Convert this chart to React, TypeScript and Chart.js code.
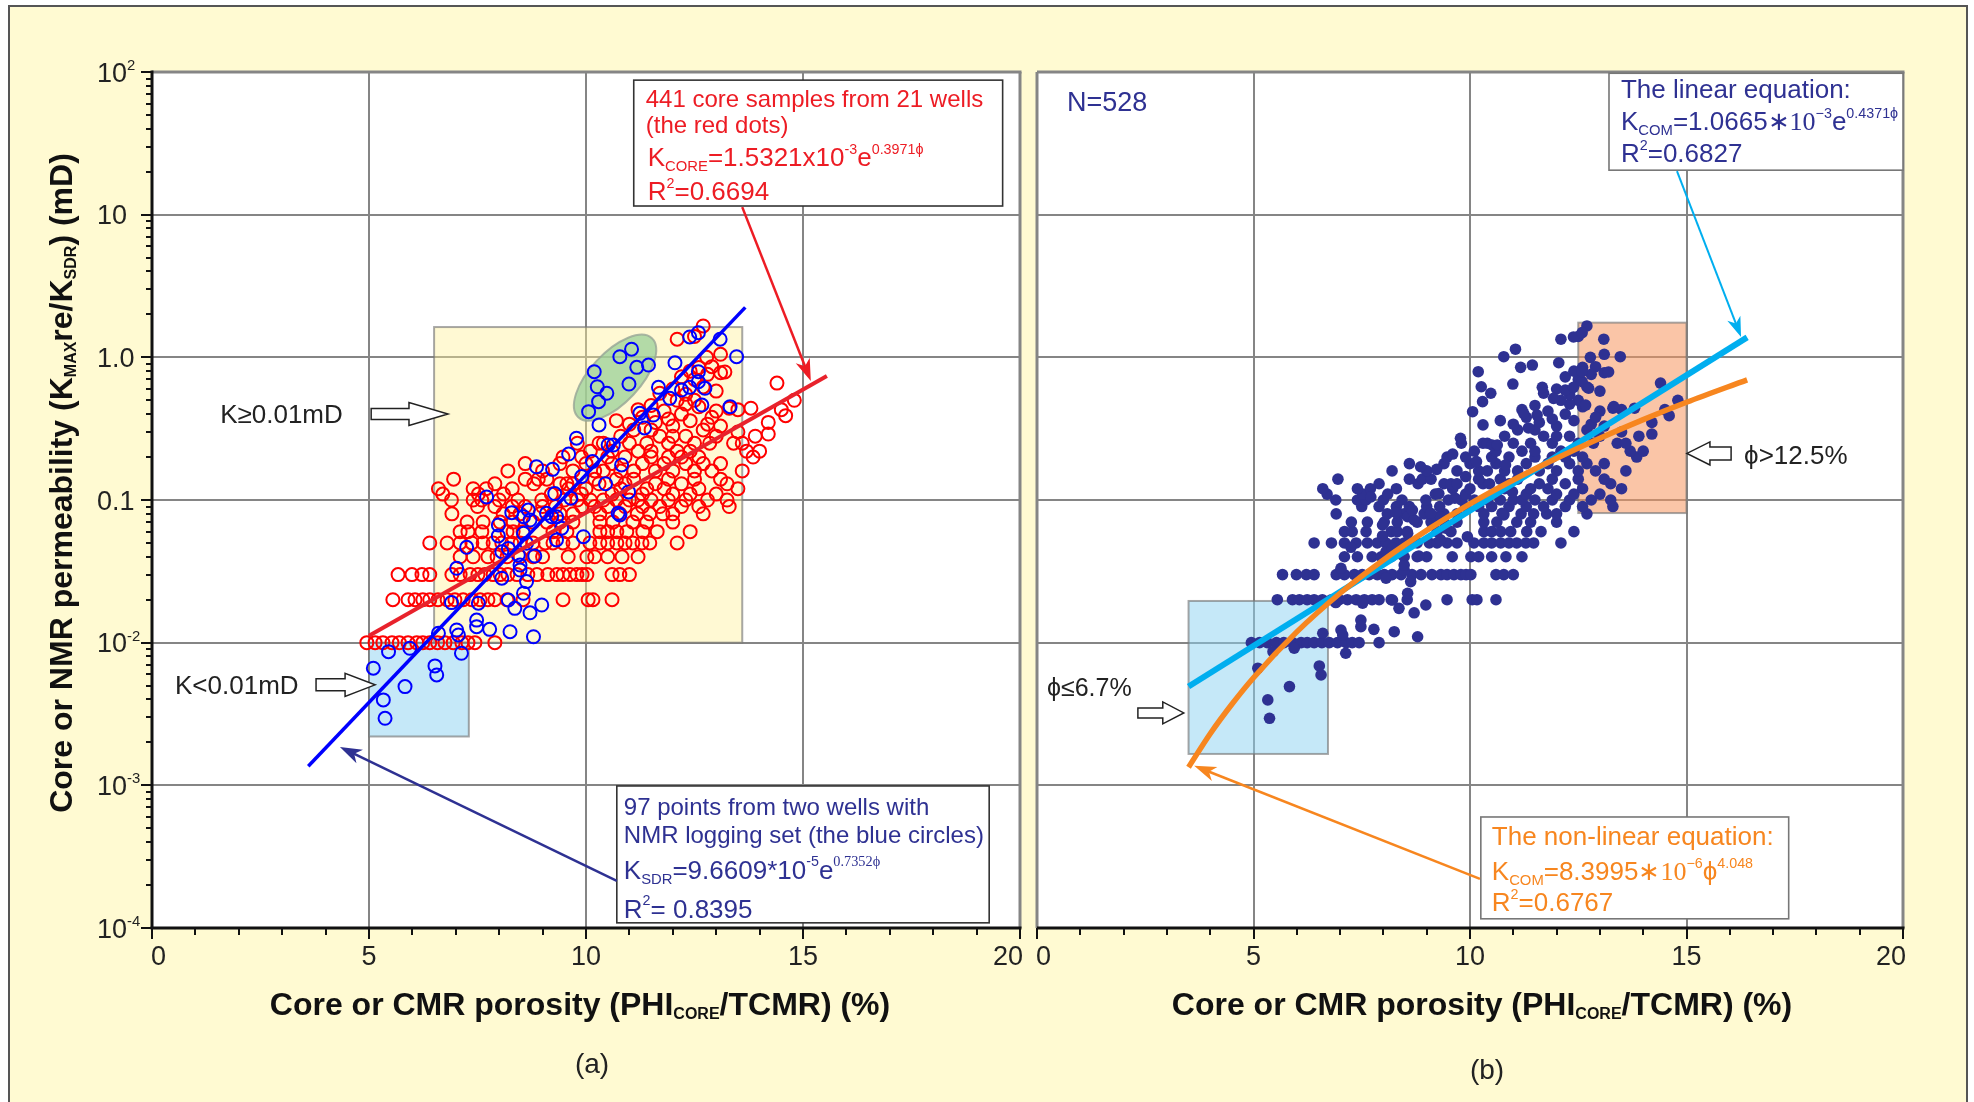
import { useEffect, useRef } from "react";
import { Chart, registerables } from "chart.js";
Chart.register(...registerables);

const SANS = '"Liberation Sans", Arial, Helvetica, sans-serif';
const SERIF = '"Liberation Serif", "Times New Roman", serif';

// ---------- axes ----------
const xGridValues = [0, 5, 10, 15, 20];
const xTickMarkValues = [0, 1, 2, 3, 4, 5, 6, 7, 8, 9, 10, 11, 12, 13, 14, 15, 16, 17, 18, 19, 20];
const xTickLabels = ["0", "5", "10", "15", "20"];
const yDecadeValues = [0.0001, 0.001, 0.01, 0.1, 1, 10, 100];
const yTickLabelBase = ["10", "10", "10", "0.1", "1.0", "10", "10"];
const yTickLabelExp = ["-4", "-3", "-2", "", "", "", "2"];
const yMinorSteps = [2, 3, 4, 5, 6, 7, 8, 9];

// ---------- data: core samples (red open circles), rows of equal K then scattered ----------
const coreRows: [number, number[]][] = [
  [0.01, [4.95, 5.14, 5.32, 5.53, 5.7, 5.9, 6.1, 6.24, 6.4, 6.58, 6.75, 6.94, 7.14, 7.28, 7.44, 7.9]],
  [0.02, [5.55, 5.9, 6.06, 6.24, 6.4, 6.59, 6.8, 6.98, 7.17, 7.37, 7.56, 7.74, 7.9, 8.18, 8.55, 9.47, 10.05, 10.16, 10.6]],
  [0.03, [5.67, 5.99, 6.22, 6.4, 6.91, 7.1, 7.33, 7.51, 7.67, 7.86, 8.02, 8.2, 8.41, 8.66, 8.87, 9.12, 9.33, 9.47, 9.63, 9.79, 9.91, 10.02, 10.6, 10.78, 11.0]],
  [0.04, [7.1, 7.4, 7.74, 7.95, 8.18, 8.48, 8.78, 9.0, 9.59, 10.02, 10.2, 10.5, 10.83, 11.2]],
  [0.05, [6.4, 6.8, 7.1, 7.37, 7.63, 7.86, 8.06, 8.29, 8.48, 8.78, 9.06, 9.24, 9.47, 9.7, 10.09, 10.32, 10.5, 10.71, 10.9, 11.08, 11.29, 11.47, 12.1]],
  [0.06, [7.1, 7.28, 7.6, 8.18, 8.32, 8.55, 9.24, 9.56, 10.32, 10.5, 10.71, 10.94, 11.31, 11.64, 12.4]],
  [0.07, [7.26, 7.63, 8.02, 8.32, 8.78, 9.1, 9.4, 9.7, 10.32, 10.62, 11.08, 11.4, 12.0]],
  [0.08, [6.91, 8.09, 8.48, 8.94, 9.4, 9.7, 10.32, 10.78, 11.18, 11.47, 11.77, 12.0, 12.7]],
  [0.09, [7.5, 7.9, 8.3, 8.6, 9.0, 9.3, 9.9, 10.2, 10.5, 10.9, 11.3, 11.7, 12.2, 12.6, 13.3]],
  [0.1, [6.9, 7.4, 7.6, 8.0, 8.43, 8.98, 9.5, 9.8, 10.1, 10.4, 10.7, 11.0, 11.2, 11.5, 11.9, 12.3, 12.8, 13.25]],
  [0.11, [6.7, 7.52, 8.1, 9.2, 9.9, 10.6, 11.3, 12.0, 12.4, 13.0]],
  [0.12, [6.6, 7.4, 7.7, 8.3, 9.6, 10.0, 10.8, 11.4, 11.8, 12.6, 13.5]],
  [0.13, [7.9, 8.8, 9.4, 9.56, 9.7, 10.3, 10.9, 11.6, 12.2, 13.25]],
  [0.14, [6.95, 8.6, 8.9, 9.1, 10.2, 10.7, 11.1, 11.9, 12.5, 13.1]],
  [0.16, [8.2, 9.0, 9.7, 10.2, 10.4, 10.8, 11.1, 11.6, 12.0, 12.5, 12.9, 13.6]],
  [0.18, [8.6, 9.4, 10.0, 10.6, 11.3, 11.8, 12.3, 12.7, 13.1]],
  [0.2, [9.47, 9.9, 10.5, 10.9, 11.5, 11.9, 12.2, 12.6, 13.85]],
  [0.22, [10.1, 10.6, 11.2, 11.5, 12.1, 12.4, 13.7, 14.0]],
  [0.25, [9.8, 10.3, 10.4, 11.0, 11.4, 11.9, 12.5, 12.85, 13.4, 13.6]],
  [0.28, [10.8, 11.7, 12.0, 12.3, 13.0, 13.9]],
  [0.31, [11.1, 11.5, 12.7]],
];
const coreScattered: [number, number][] = [
  [11.0, 0.34], [11.3, 0.38], [11.6, 0.35], [11.8, 0.42], [12.0, 0.33], [12.2, 0.4], [12.4, 0.36], [12.6, 0.45],
  [12.8, 0.34], [13.0, 0.42], [13.3, 0.44], [13.5, 0.43], [13.8, 0.44], [14.2, 0.35], [14.5, 0.43], [14.8, 0.5],
  [12.5, 0.5], [11.5, 0.46], [12.9, 0.38], [11.9, 0.37], [12.3, 0.47], [13.1, 0.33], [10.7, 0.36], [11.2, 0.43],
  [14.6, 0.39], [14.2, 0.29], [13.5, 0.3], [12.0, 0.6], [12.3, 0.55], [12.5, 0.7], [12.7, 0.62], [12.2, 0.73],
  [13.1, 0.78], [13.2, 0.79], [14.4, 0.66], [12.78, 1.0], [12.9, 0.86], [12.1, 0.5], [12.6, 0.85], [11.7, 0.56],
  [13.0, 0.58], [12.4, 0.8], [12.8, 0.76], [13.1, 1.05], [12.1, 1.34], [12.7, 1.66], [12.5, 1.4],
];

// ---------- data: NMR points (blue open circles) ----------
const nmrPoints: [number, number][] = [
  [5.1, 0.00662], [5.45, 0.00865], [5.94, 0.00914], [5.83, 0.00492], [5.33, 0.00397], [5.37, 0.00295],
  [6.52, 0.00687], [6.56, 0.00594], [6.6, 0.01164], [7.02, 0.01227], [7.06, 0.01133], [7.13, 0.00843],
  [6.9, 0.0191], [7.48, 0.0144], [7.48, 0.01295], [7.78, 0.0124], [7.52, 0.0189], [8.25, 0.01194],
  [8.79, 0.011], [8.71, 0.0162], [8.98, 0.01837], [8.36, 0.0174], [8.21, 0.0199], [8.56, 0.0222],
  [8.63, 0.0268], [8.48, 0.0323], [8.48, 0.035], [8.06, 0.0283], [7.02, 0.0332], [7.25, 0.0466],
  [7.98, 0.0668], [7.98, 0.056], [8.06, 0.0434], [8.21, 0.0458], [8.44, 0.0412], [8.56, 0.0584],
  [8.63, 0.0497], [8.82, 0.0405], [9.32, 0.0525], [9.44, 0.0634], [9.94, 0.0553], [9.21, 0.0764],
  [9.32, 0.0764], [10.78, 0.0785], [8.56, 0.0764], [8.71, 0.0724],
  [10.19, 0.793], [10.26, 0.622], [10.29, 0.489], [10.06, 0.416], [10.3, 0.336], [9.78, 0.271],
  [10.15, 0.186], [8.86, 0.171], [9.23, 0.164], [9.9, 0.146], [9.28, 0.111], [7.71, 0.105],
  [8.67, 0.085], [8.29, 0.0815], [9.09, 0.0807], [9.65, 0.103],
  [10.48, 0.56], [10.78, 1.01], [11.05, 1.14], [11.17, 0.851], [11.44, 0.883], [10.99, 0.65],
  [12.05, 0.916], [11.67, 0.616], [11.93, 0.516], [12.2, 0.59], [12.39, 0.616], [12.59, 0.675],
  [12.74, 0.607], [12.59, 0.793], [12.39, 1.39], [12.59, 1.49], [13.09, 1.34], [13.47, 1.01],
  [12.67, 0.463], [13.32, 0.451], [11.24, 0.405], [11.55, 0.394], [10.51, 0.243], [10.63, 0.243],
  [10.82, 0.176], [10.98, 0.114], [10.74, 0.0807], [9.6, 0.21], [11.35, 0.32], [10.45, 0.13],
];

// ---------- fitted curves (as drawn) ----------
const sdrFitLine: [number, number][] = [[3.6, 0.00136], [13.67, 2.24]];
const coreFitLine: [number, number][] = [[5.0, 0.0112], [15.55, 0.74]];
const linearFitLine: [number, number][] = [[3.5, 0.00493], [16.4, 1.38]];
const powerFitX = [3.5, 4, 4.5, 5, 6, 7, 8, 9, 10, 11, 12, 13, 14, 15, 16.4];
const powerFitY = [0.00134, 0.0023, 0.0037, 0.00568, 0.0119, 0.0222, 0.038, 0.0612, 0.0939, 0.138, 0.196, 0.271, 0.366, 0.484, 0.695];

// ---------- derived ----------
const corePoints = [
  ...coreRows.flatMap(([y, xs]) => xs.map((x) => ({ x, y }))),
  ...coreScattered.map(([x, y]) => ({ x, y })),
];
const nmrPts = nmrPoints.map(([x, y]) => ({ x, y }));
const combinedPts = [...corePoints, ...nmrPts];
const toXY = (a: [number, number][]) => a.map(([x, y]) => ({ x, y }));
const powerFit = powerFitX.map((x, i) => ({ x, y: powerFitY[i] }));

// ---------- colours ----------
const NAVY = "#2e3192";
const RED_TXT = "#ed1c24";
const ORANGE = "#f7861f";
const CYAN = "#00aeef";

// ---------- drawing helpers ----------
type Seg = { t: string; k?: "sub" | "sup"; f?: string };
type RichOpts = { weight?: string; align?: "left" | "center" | "right"; subR?: number; subDy?: number; supR?: number; supDy?: number };

function drawRich(ctx: CanvasRenderingContext2D, segs: Seg[], x: number, y: number, size: number, color: string, o: RichOpts = {}) {
  const weight = o.weight || "normal";
  const subR = o.subR ?? 0.57, subDy = o.subDy ?? 0.2, supR = o.supR ?? 0.55, supDy = o.supDy ?? -0.48;
  const fontOf = (s: Seg) => {
    const sz = s.k === "sub" ? size * subR : s.k === "sup" ? size * supR : size;
    return `${weight} ${sz}px ${s.f || SANS}`;
  };
  let total = 0;
  const ws = segs.map((s) => {
    ctx.font = fontOf(s);
    const w = ctx.measureText(s.t).width;
    total += w;
    return w;
  });
  let cx = o.align === "center" ? x - total / 2 : o.align === "right" ? x - total : x;
  ctx.fillStyle = color;
  ctx.textAlign = "left";
  ctx.textBaseline = "alphabetic";
  segs.forEach((s, i) => {
    ctx.font = fontOf(s);
    const dy = s.k === "sub" ? subDy * size : s.k === "sup" ? supDy * size : 0;
    ctx.fillText(s.t, cx, y + dy);
    cx += ws[i];
  });
  return total;
}

function arrow(ctx: CanvasRenderingContext2D, x1: number, y1: number, x2: number, y2: number, color: string, lw: number, hl: number, hw: number) {
  const ang = Math.atan2(y2 - y1, x2 - x1);
  const dx = Math.cos(ang), dy = Math.sin(ang);
  const px = -dy, py = dx;
  ctx.save();
  ctx.strokeStyle = color;
  ctx.fillStyle = color;
  ctx.lineWidth = lw;
  ctx.lineCap = "butt";
  ctx.beginPath();
  ctx.moveTo(x1, y1);
  ctx.lineTo(x2 - dx * hl * 0.7, y2 - dy * hl * 0.7);
  ctx.stroke();
  ctx.beginPath();
  ctx.moveTo(x2, y2);
  ctx.lineTo(x2 - dx * hl + px * hw / 2, y2 - dy * hl + py * hw / 2);
  ctx.lineTo(x2 - dx * hl * 0.72, y2 - dy * hl * 0.72);
  ctx.lineTo(x2 - dx * hl - px * hw / 2, y2 - dy * hl - py * hw / 2);
  ctx.closePath();
  ctx.fill();
  ctx.restore();
}

function blockArrow(ctx: CanvasRenderingContext2D, tailX: number, tipX: number, y: number, shaftH: number, headH: number, headLen: number) {
  const dir = Math.sign(tipX - tailX);
  const bx = tipX - dir * headLen;
  ctx.save();
  ctx.beginPath();
  ctx.moveTo(tailX, y - shaftH / 2);
  ctx.lineTo(bx, y - shaftH / 2);
  ctx.lineTo(bx, y - headH / 2);
  ctx.lineTo(tipX, y);
  ctx.lineTo(bx, y + headH / 2);
  ctx.lineTo(bx, y + shaftH / 2);
  ctx.lineTo(tailX, y + shaftH / 2);
  ctx.closePath();
  ctx.fillStyle = "#fff";
  ctx.fill();
  ctx.strokeStyle = "#222";
  ctx.lineWidth = 1.5;
  ctx.stroke();
  ctx.restore();
}

function region(ctx: CanvasRenderingContext2D, x1: number, y1: number, x2: number, y2: number, fill: string) {
  ctx.save();
  ctx.fillStyle = fill;
  ctx.fillRect(x1, y1, x2 - x1, y2 - y1);
  ctx.strokeStyle = "rgba(120,120,120,0.65)";
  ctx.lineWidth = 2;
  ctx.strokeRect(x1, y1, x2 - x1, y2 - y1);
  ctx.restore();
}

function textBox(ctx: CanvasRenderingContext2D, x1: number, y1: number, x2: number, y2: number, stroke: string) {
  ctx.save();
  ctx.fillStyle = "#fff";
  ctx.fillRect(x1, y1, x2 - x1, y2 - y1);
  ctx.strokeStyle = stroke;
  ctx.lineWidth = 1.6;
  ctx.strokeRect(x1, y1, x2 - x1, y2 - y1);
  ctx.restore();
}

function line(ctx: CanvasRenderingContext2D, x1: number, y1: number, x2: number, y2: number, color: string, lw: number) {
  ctx.beginPath();
  ctx.strokeStyle = color;
  ctx.lineWidth = lw;
  ctx.moveTo(x1, y1);
  ctx.lineTo(x2, y2);
  ctx.stroke();
}

function drawFrameAndAxes(chart: any, withY: boolean) {
  const { ctx, chartArea: a } = chart;
  const xs = chart.scales.x, ys = chart.scales.y;
  ctx.save();
  ctx.lineCap = "butt";
  // gray frame
  line(ctx, a.left, a.top, a.right + 1.5, a.top, "#858585", 3);
  line(ctx, a.right, a.top, a.right, a.bottom, "#858585", 3);
  if (!withY) line(ctx, a.left, a.top, a.left, a.bottom, "#858585", 3);
  // black axes
  line(ctx, a.left - (withY ? 1.5 : 0), a.bottom, a.right + 1.5, a.bottom, "#111", 3);
  if (withY) line(ctx, a.left, a.top - 1.5, a.left, a.bottom, "#111", 3);
  // x tick marks
  xTickMarkValues.forEach((v) => {
    const x = Math.round(xs.getPixelForValue(v));
    line(ctx, x, a.bottom, x, a.bottom + (v % 5 === 0 ? 11 : 7), "#111", 2);
  });
  // x tick labels
  ctx.font = `27px ${SANS}`;
  ctx.fillStyle = "#222";
  ctx.textBaseline = "alphabetic";
  xGridValues.forEach((v, i) => {
    const x = xs.getPixelForValue(v);
    if (i === 0) { ctx.textAlign = "left"; ctx.fillText(xTickLabels[i], x - 1, a.bottom + 37); }
    else if (i === xGridValues.length - 1) { ctx.textAlign = "right"; ctx.fillText(xTickLabels[i], x + 3, a.bottom + 37); }
    else { ctx.textAlign = "center"; ctx.fillText(xTickLabels[i], x, a.bottom + 37); }
  });
  if (withY) {
    // y tick marks
    yDecadeValues.forEach((d, i) => {
      const y = Math.round(ys.getPixelForValue(d));
      line(ctx, a.left - 11, y, a.left, y, "#111", 2);
      if (i < yDecadeValues.length - 1) {
        yMinorSteps.forEach((m) => {
          const yy = Math.round(ys.getPixelForValue(d * m));
          line(ctx, a.left - 6, yy, a.left, yy, "#111", 2);
        });
      }
    });
    // y tick labels
    yDecadeValues.forEach((d, i) => {
      const y = ys.getPixelForValue(d);
      const segs: Seg[] = [{ t: yTickLabelBase[i] }];
      if (yTickLabelExp[i]) segs.push({ t: yTickLabelExp[i], k: "sup" });
      drawRich(ctx, segs, a.left - 55, y + 9.5, 27, "#222", { supR: 0.55, supDy: -0.42 });
    });
  }
  ctx.restore();
}

const xTitle: Seg[] = [{ t: "Core or CMR porosity (PHI" }, { t: "CORE", k: "sub" }, { t: "/TCMR) (%)" }];
const yTitle: Seg[] = [{ t: "Core or NMR permeability (K" }, { t: "MAX", k: "sub" }, { t: "re/K" }, { t: "SDR", k: "sub" }, { t: ") (mD)" }];
const titleOpts: RichOpts = { weight: "bold", subR: 0.5, subDy: 0.14 };

// ---------- panel (a) plugin ----------
const pluginA = {
  id: "panelA",
  beforeDraw(chart: any) {
    const { ctx, chartArea: a } = chart;
    ctx.save();
    ctx.fillStyle = "#fff";
    ctx.fillRect(a.left, a.top, a.right - a.left, a.bottom - a.top);
    ctx.restore();
  },
  beforeDatasetsDraw(chart: any) {
    const ctx = chart.ctx;
    const X = (v: number) => chart.scales.x.getPixelForValue(v);
    const Y = (v: number) => chart.scales.y.getPixelForValue(v);
    region(ctx, X(6.5), Y(1.63), X(13.6), Y(0.01), "rgba(255,240,150,0.42)");
    region(ctx, X(5.0), Y(0.01), X(7.3), Y(0.0022), "rgba(140,210,242,0.5)");
    ctx.save();
    ctx.beginPath();
    ctx.ellipse(X(10.67), Y(0.72), 54, 25, (-47 * Math.PI) / 180, 0, Math.PI * 2);
    ctx.fillStyle = "rgba(150,205,150,0.72)";
    ctx.fill();
    ctx.strokeStyle = "rgba(150,165,150,0.8)";
    ctx.lineWidth = 2;
    ctx.stroke();
    ctx.restore();
  },
  afterDatasetsDraw(chart: any) {
    const { ctx, chartArea: a } = chart;
    const X = (v: number) => chart.scales.x.getPixelForValue(v);
    const Y = (v: number) => chart.scales.y.getPixelForValue(v);
    drawFrameAndAxes(chart, true);
    ctx.save();
    // axis titles
    drawRich(ctx, xTitle, (a.left + a.right) / 2 - 6, a.bottom + 87, 32, "#111", { ...titleOpts, align: "center" });
    ctx.save();
    ctx.translate(a.left - 80, (a.top + a.bottom) / 2 - 17);
    ctx.rotate(-Math.PI / 2);
    drawRich(ctx, yTitle, 0, 0, 32, "#111", { ...titleOpts, align: "center" });
    ctx.restore();
    ctx.font = `28px ${SANS}`;
    ctx.fillStyle = "#222";
    ctx.textAlign = "center";
    ctx.fillText("(a)", (a.left + a.right) / 2 + 6, a.bottom + 145);

    // red text box
    const rx = X(11.1), ry = Y(87.7);
    textBox(ctx, rx, ry, X(19.6), Y(11.5), "#333");
    drawRich(ctx, [{ t: "441 core samples from 21 wells" }], rx + 12, ry + 27, 24, RED_TXT);
    drawRich(ctx, [{ t: "(the red dots)" }], rx + 12, ry + 53, 24, RED_TXT);
    drawRich(ctx, [{ t: "K" }, { t: "CORE", k: "sub" }, { t: "=1.5321x10" }, { t: "-3", k: "sup" }, { t: "e" }, { t: "0.3971ϕ", k: "sup" }], rx + 14, ry + 86, 26, RED_TXT);
    drawRich(ctx, [{ t: "R" }, { t: "2", k: "sup" }, { t: "=0.6694" }], rx + 14, ry + 120, 26, RED_TXT);
    arrow(ctx, X(13.6), Y(11.3), X(15.18), Y(0.682), "#ed1c24", 2.5, 22, 15);

    // blue text box
    const bx = X(10.71), by = Y(0.00099);
    textBox(ctx, bx, by, X(19.29), Y(0.0001087), "#333");
    drawRich(ctx, [{ t: "97 points from two wells with" }], bx + 7, by + 29, 24, NAVY);
    drawRich(ctx, [{ t: "NMR logging set (the blue circles)" }], bx + 7, by + 57, 24, NAVY);
    drawRich(ctx, [{ t: "K" }, { t: "SDR", k: "sub" }, { t: "=9.6609*10" }, { t: "-5", k: "sup" }, { t: "e" }, { t: "0.7352ϕ", k: "sup", f: SERIF }], bx + 7, by + 93, 26, NAVY);
    drawRich(ctx, [{ t: "R" }, { t: "2", k: "sup" }, { t: "= 0.8395" }], bx + 7, by + 132, 26, NAVY);
    arrow(ctx, X(10.71), Y(0.000214), X(4.33), Y(0.00186), NAVY, 2.5, 22, 15);

    // hollow arrows and labels
    blockArrow(ctx, X(5.05), X(6.82), Y(0.401), 11, 23, 39);
    drawRich(ctx, [{ t: "K≥0.01mD" }], X(1.57), Y(0.347), 26, "#222");
    blockArrow(ctx, X(3.78), X(5.14), Y(0.00506), 12, 23, 30);
    drawRich(ctx, [{ t: "K<0.01mD" }], X(0.53), Y(0.00437), 26, "#222");
    ctx.restore();
  },
};

// ---------- panel (b) plugin ----------
const pluginB = {
  id: "panelB",
  beforeDraw: pluginA.beforeDraw,
  beforeDatasetsDraw(chart: any) {
    const ctx = chart.ctx;
    const X = (v: number) => chart.scales.x.getPixelForValue(v);
    const Y = (v: number) => chart.scales.y.getPixelForValue(v);
    region(ctx, X(12.5), Y(1.75), X(15.0), Y(0.081), "rgba(245,150,95,0.55)");
    region(ctx, X(3.5), Y(0.0196), X(6.72), Y(0.00166), "rgba(140,210,242,0.5)");
  },
  afterDatasetsDraw(chart: any) {
    const { ctx, chartArea: a } = chart;
    const X = (v: number) => chart.scales.x.getPixelForValue(v);
    const Y = (v: number) => chart.scales.y.getPixelForValue(v);
    drawFrameAndAxes(chart, false);
    ctx.save();
    drawRich(ctx, xTitle, (a.left + a.right) / 2 + 12, a.bottom + 87, 32, "#111", { ...titleOpts, align: "center" });
    ctx.font = `28px ${SANS}`;
    ctx.fillStyle = "#222";
    ctx.textAlign = "center";
    ctx.fillText("(b)", (a.left + a.right) / 2 + 17, a.bottom + 151);

    drawRich(ctx, [{ t: "N=528" }], a.left + 30, a.top + 39, 27, NAVY);

    // linear box
    const lx = X(13.21), ly = Y(98);
    textBox(ctx, lx, ly, a.right, Y(20.5), "#777");
    drawRich(ctx, [{ t: "The linear equation:" }], lx + 12, ly + 25, 26, NAVY);
    drawRich(ctx, [{ t: "K" }, { t: "COM", k: "sub" }, { t: "=1.0665" }, { t: "∗" }, { t: "10", f: SERIF }, { t: "−3", k: "sup" }, { t: "e" }, { t: "0.4371ϕ", k: "sup" }], lx + 12, ly + 57, 26, NAVY);
    drawRich(ctx, [{ t: "R" }, { t: "2", k: "sup" }, { t: "=0.6827" }], lx + 12, ly + 89, 26, NAVY);
    arrow(ctx, X(14.78), Y(20.2), X(16.26), Y(1.39), CYAN, 2, 20, 14);

    // non-linear box
    const nx = X(10.25), ny = Y(0.0006);
    textBox(ctx, nx, ny, X(17.36), Y(0.000116), "#777");
    drawRich(ctx, [{ t: "The non-linear equation:" }], nx + 11, ny + 28, 26, ORANGE);
    drawRich(ctx, [{ t: "K" }, { t: "COM", k: "sub" }, { t: "=8.3995" }, { t: "∗" }, { t: "10", f: SERIF }, { t: "−6", k: "sup" }, { t: "ϕ" }, { t: "4.048", k: "sup" }], nx + 11, ny + 63, 26, ORANGE);
    drawRich(ctx, [{ t: "R" }, { t: "2", k: "sup" }, { t: "=0.6767" }], nx + 11, ny + 94, 26, ORANGE);
    arrow(ctx, X(10.23), Y(0.000221), X(3.63), Y(0.00137), ORANGE, 2.5, 22, 15);

    // hollow arrows and labels
    blockArrow(ctx, X(2.33), X(3.39), Y(0.00322), 10, 22, 21);
    drawRich(ctx, [{ t: "ϕ≤6.7%" }], X(0.23), Y(0.00424), 25, "#222");
    blockArrow(ctx, X(16.03), X(15.01), Y(0.212), 13, 23, 23);
    drawRich(ctx, [{ t: "ϕ>12.5%" }], X(16.33), Y(0.179), 26, "#222");
    ctx.restore();
  },
};

function scalesFor(yWidth: number, xHeight: number) {
  return {
    x: {
      type: "linear" as const,
      min: 0,
      max: 20,
      afterBuildTicks: (s: any) => { s.ticks = xGridValues.map((v) => ({ value: v })); },
      afterFit: (s: any) => { s.height = xHeight; },
      ticks: { display: false },
      grid: { color: "#858585", lineWidth: 2, drawTicks: false },
      border: { display: false },
    },
    y: {
      type: "logarithmic" as const,
      min: 0.0001,
      max: 100,
      afterBuildTicks: (s: any) => { s.ticks = yDecadeValues.map((v) => ({ value: v })); },
      afterFit: (s: any) => { s.width = yWidth; },
      ticks: { display: false },
      grid: { color: "#858585", lineWidth: 2, drawTicks: false },
      border: { display: false },
    },
  };
}

const baseOpts = {
  animation: false as const,
  responsive: false,
  maintainAspectRatio: false,
  devicePixelRatio: 1,
  events: [] as any[],
  plugins: { legend: { display: false }, tooltip: { enabled: false } },
};

export default function App() {
  const refA = useRef<HTMLCanvasElement>(null);
  const refB = useRef<HTMLCanvasElement>(null);
  useEffect(() => {
    const a = new Chart(refA.current!, {
      type: "scatter",
      data: {
        datasets: [
          { label: "SDR fit", data: toXY(sdrFitLine), showLine: true, borderColor: "#0000ff", borderWidth: 3.5, pointRadius: 0, order: 0 } as any,
          { label: "Core fit", data: toXY(coreFitLine), showLine: true, borderColor: "#e8222c", borderWidth: 4, pointRadius: 0, order: 1 },
          { label: "NMR", data: nmrPts, pointRadius: 6.5, borderWidth: 2, borderColor: "#0000ff", backgroundColor: "rgba(0,0,0,0)", order: 2 },
          { label: "Core", data: corePoints, pointRadius: 6.5, borderWidth: 2, borderColor: "#ff0000", backgroundColor: "rgba(0,0,0,0)", order: 3 },
        ],
      },
      options: { ...baseOpts, layout: { padding: { left: 0, top: 72, right: 10, bottom: 0 } }, scales: scalesFor(152, 174) } as any,
      plugins: [pluginA],
    });
    const b = new Chart(refB.current!, {
      type: "scatter",
      data: {
        datasets: [
          { label: "Power fit", data: powerFit, showLine: true, borderColor: ORANGE, borderWidth: 5.5, pointRadius: 0, cubicInterpolationMode: "monotone", order: 0 } as any,
          { label: "Linear fit", data: toXY(linearFitLine), showLine: true, borderColor: CYAN, borderWidth: 6, pointRadius: 0, order: 1 },
          { label: "Combined", data: combinedPts, pointRadius: 5.8, borderWidth: 0, backgroundColor: NAVY, order: 2 },
        ],
      },
      options: { ...baseOpts, layout: { padding: { left: 0, top: 72, right: 71, bottom: 0 } }, scales: scalesFor(11, 174) } as any,
      plugins: [pluginB],
    });
    return () => { a.destroy(); b.destroy(); };
  }, []);
  return (
    <div style={{ position: "fixed", left: 0, top: 0, width: 1974, height: 1102, background: "#fff", overflow: "hidden" }}>
      <div style={{ position: "absolute", left: 8, top: 5, width: 1956, height: 1120, border: "2px solid #555", background: "#fffad2" }} />
      <canvas ref={refA} width={1030} height={1102} style={{ position: "absolute", left: 0, top: 0, width: 1030, height: 1102 }} />
      <canvas ref={refB} width={948} height={1102} style={{ position: "absolute", left: 1026, top: 0, width: 948, height: 1102 }} />
    </div>
  );
}
